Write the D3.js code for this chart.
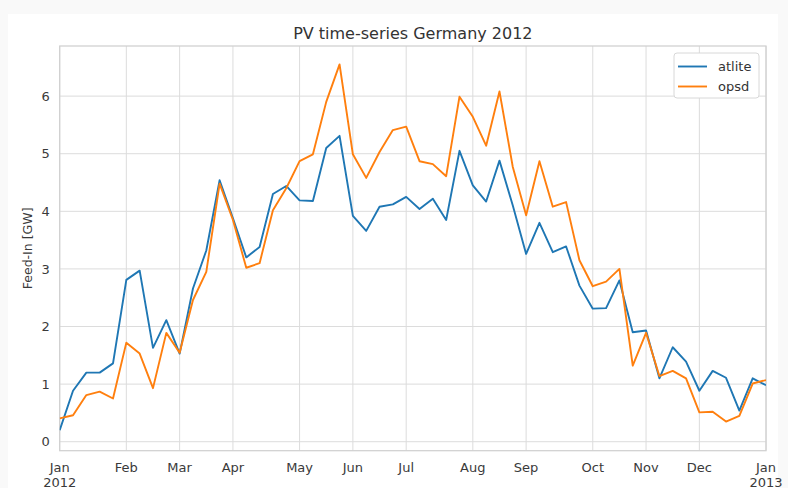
<!DOCTYPE html>
<html>
<head>
<meta charset="utf-8">
<script src="https://cdn.jsdelivr.net/npm/d3@7"></script>
<style>
  html, body { margin: 0; padding: 0; background: #f9f9f9; }
  svg { display: block; font-family: "DejaVu Sans", sans-serif; }
</style>
</head>
<body>
<svg width="788" height="488"></svg>
<script>
// weekly mean PV feed-in [GW], week ending Sunday, 2012-01-01 .. 2013-01-06
const seriesNames = ["atlite", "opsd"];
const colors = ["#1f77b4", "#ff7f0e"];

const atlite = [0.20, 0.885, 1.20, 1.20, 1.36, 2.81, 2.97, 1.63, 2.11, 1.53, 2.66,
  3.32, 4.54, 3.88, 3.20, 3.38, 4.30, 4.44, 4.19, 4.18, 5.10, 5.31,
  3.92, 3.66, 4.08, 4.12, 4.25, 4.04, 4.22, 3.85, 5.05, 4.45, 4.17, 4.88,
  4.10, 3.26, 3.80, 3.29, 3.39, 2.71, 2.31, 2.32, 2.80, 1.90, 1.93,
  1.10, 1.64, 1.39, 0.885, 1.23, 1.11, 0.54, 1.10, 0.98];

const opsd = [0.405, 0.46, 0.81, 0.87, 0.75, 1.72, 1.53, 0.93, 1.89, 1.545, 2.46,
  2.95, 4.48, 3.85, 3.02, 3.10, 4.02, 4.40, 4.87, 4.99, 5.90, 6.55,
  4.99, 4.58, 5.03, 5.41, 5.47, 4.87, 4.82, 4.61, 5.99, 5.64, 5.14, 6.08,
  4.77, 3.93, 4.87, 4.08, 4.16, 3.15, 2.70, 2.78, 3.00, 1.32, 1.89,
  1.14, 1.23, 1.10, 0.51, 0.52, 0.35, 0.45, 1.01, 1.07];

const weeks = d3.timeSunday.range(new Date(2012, 0, 1), new Date(2013, 0, 7));
const monthStarts = d3.timeMonth.range(new Date(2012, 0, 1), new Date(2013, 0, 2));
const yTicks = [0, 1, 2, 3, 4, 5, 6];

const svg = d3.select("svg");
const plotL = 59.7, plotR = 766, plotT = 46, plotB = 450.7;

// white figure area
svg.append("rect")
  .attr("x", 8).attr("y", 14)
  .attr("width", 770).attr("height", 480)
  .attr("fill", "#fff");

const x = d3.scaleTime()
  .domain([weeks[0], weeks[weeks.length - 1]])
  .range([plotL, plotR]);

const y = d3.scaleLinear()
  .domain([-0.156, 6.87])
  .range([plotB, plotT]);

// ticks snap to the week containing the first of each month
const xTicks = monthStarts.map(d => d3.timeSunday.ceil(d));
const fmtMonth = d3.timeFormat("%b");

// GRID
svg.append("g")
  .selectAll("line.vgrid")
  .data(xTicks)
  .enter()
  .append("line")
  .attr("x1", d => x(d)).attr("x2", d => x(d))
  .attr("y1", plotT).attr("y2", plotB)
  .attr("stroke", "#dcdcdc")
  .attr("stroke-width", 1);

svg.append("g")
  .selectAll("line.hgrid")
  .data(yTicks)
  .enter()
  .append("line")
  .attr("x1", plotL).attr("x2", plotR)
  .attr("y1", d => y(d)).attr("y2", d => y(d))
  .attr("stroke", "#dcdcdc")
  .attr("stroke-width", 1);

// FRAME
svg.append("rect")
  .attr("x", plotL).attr("y", plotT)
  .attr("width", plotR - plotL).attr("height", plotB - plotT)
  .attr("fill", "none")
  .attr("stroke", "#d0d0d0")
  .attr("stroke-width", 1.25);

// X LABELS (seaborn whitegrid has no tick marks)
const xLab = svg.append("g")
  .selectAll("text")
  .data(xTicks)
  .enter()
  .append("text")
  .attr("x", d => x(d))
  .attr("y", 471.5)
  .attr("text-anchor", "middle")
  .attr("font-size", "13px")
  .attr("fill", "#3a3a3a");
xLab.append("tspan").text(d => fmtMonth(d));
xLab.filter(d => d.getMonth() === 0)
  .append("tspan")
  .attr("x", d => x(d))
  .attr("dy", 15.5)
  .text(d => d.getFullYear());

const yAxis = svg.append("g")
  .attr("transform", `translate(${plotL},0)`)
  .call(d3.axisLeft(y).tickValues(yTicks).tickSize(0).tickPadding(10).tickFormat(d3.format("d")));
yAxis.select(".domain").remove();
yAxis.selectAll(".tick text")
  .attr("font-family", "DejaVu Sans")
  .attr("font-size", "13px")
  .attr("fill", "#3a3a3a");

svg.append("text")
  .attr("transform", `translate(32,${(plotT + plotB) / 2}) rotate(-90)`)
  .attr("text-anchor", "middle")
  .attr("font-size", "12.5px")
  .attr("fill", "#3a3a3a")
  .text("Feed-In [GW]");

svg.append("text")
  .attr("x", (plotL + plotR) / 2)
  .attr("y", 39)
  .attr("text-anchor", "middle")
  .attr("font-size", "16px")
  .attr("fill", "#333")
  .text("PV time-series Germany 2012");

// LINES
svg.append("clipPath").attr("id", "plot")
  .append("rect")
  .attr("x", plotL).attr("y", plotT)
  .attr("width", plotR - plotL).attr("height", plotB - plotT);

const line = d3.line()
  .x((d, i) => x(weeks[i]))
  .y(d => y(d));

svg.append("g")
  .attr("clip-path", "url(#plot)")
  .selectAll("path.series")
  .data([atlite, opsd])
  .enter()
  .append("path")
  .attr("class", "series")
  .attr("fill", "none")
  .attr("stroke", (d, i) => colors[i])
  .attr("stroke-width", 1.9)
  .attr("stroke-linejoin", "round")
  .attr("d", line);

// LEGEND
const legend = svg.append("g").attr("transform", "translate(674,53)");
legend.append("rect")
  .attr("width", 85).attr("height", 45)
  .attr("rx", 3)
  .attr("fill", "#fff")
  .attr("stroke", "#d8d8d8")
  .attr("stroke-width", 1);

const item = legend.selectAll("g.item")
  .data(seriesNames)
  .enter()
  .append("g")
  .attr("transform", (d, i) => `translate(0,${13.5 + i * 20})`);

item.append("line")
  .attr("x1", 4).attr("x2", 33)
  .attr("stroke", (d, i) => colors[i])
  .attr("stroke-width", 1.9);

item.append("text")
  .attr("x", 44)
  .attr("dy", "0.35em")
  .attr("font-size", "13px")
  .attr("fill", "#333")
  .text(d => d);
</script>
</body>
</html>
